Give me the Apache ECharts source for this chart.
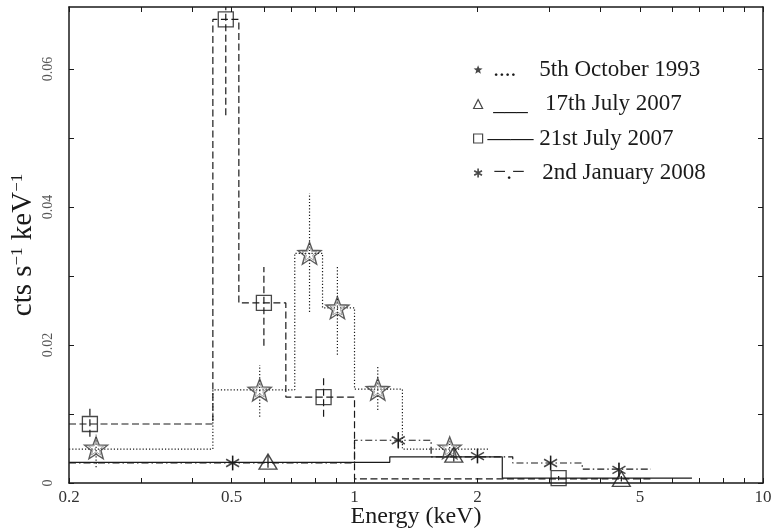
<!DOCTYPE html>
<html>
<head>
<meta charset="utf-8">
<script src="https://cdn.jsdelivr.net/npm/echarts@6/dist/echarts.min.js"></script>
<style>
  html, body { margin: 0; padding: 0; background: #fff; }
  #chart { width: 774px; height: 529px; }
</style>
</head>
<body>
<div id="chart"></div>
<script>
// axis ticks (energy in keV, rate in cts/s/keV)
const xLabels = [0.2, 0.5, 1, 2, 5, 10]
const xTicks = [0.2, 0.3, 0.4, 0.5, 0.6, 0.7, 0.8, 0.9, 1, 2, 3, 4, 5, 6, 7, 8, 9, 10]
const yLabels = [0, 0.02, 0.04, 0.06]
const yTicks = [0, 0.01, 0.02, 0.03, 0.04, 0.05, 0.06]

const names = ['5th October 1993', '17th July 2007', '21st July 2007', '2nd January 2008']
const legendMarks = [' ....    ', ' ___   ', '—— ', ' −.−   ']

// histogram bins: edges and rate in each bin
const edges1993 = [0.2, 0.45, 0.714, 0.835, 1.0, 1.31, 2.14]
const rates1993 = [0.0049, 0.0135, 0.0333, 0.0254, 0.0136, 0.0049]
const edgesJul17 = [0.2, 1.22, 2.3, 6.7]
const ratesJul17 = [0.0030, 0.0038, 0.0007]
const edgesJul21 = [0.2, 0.45, 0.521, 0.679, 1.0, 5.3]
const ratesJul21 = [0.00855, 0.0672, 0.0261, 0.01246, 0.0006]
const edgesJan08 = [0.2, 1.0, 1.54, 2.44, 3.61, 5.32]
const ratesJan08 = [0.0029, 0.0062, 0.0038, 0.0029, 0.0020]

// data points: [energy, rate, low, high]
const pts1993 = [
  [0.233, 0.0051, 0.0023, 0.0070],
  [0.586, 0.0135, 0.0096, 0.0171],
  [0.776, 0.0333, 0.0248, 0.0420],
  [0.908, 0.0254, 0.0186, 0.0316],
  [1.14, 0.0136, 0.0106, 0.0171],
  [1.71, 0.0051, 0.0041, 0.0061]
]
const ptsJul17 = [
  [0.614, 0.0031, 0.0022, 0.0040],
  [1.75, 0.0041, 0.0031, 0.0051],
  [4.5, 0.0006, 0.0002, 0.0010]
]
const ptsJul21 = [
  [0.225, 0.00855, 0.0067, 0.0109],
  [0.484, 0.0672, 0.0533, 0.0810],
  [0.60, 0.0261, 0.0199, 0.0313],
  [0.84, 0.01246, 0.0096, 0.0152],
  [3.16, 0.0007, 0.0004, 0.0010]
]
const ptsJan08 = [
  [0.503, 0.0029, 0.0019, 0.0039],
  [1.28, 0.0062, 0.0050, 0.0074],
  [2.0, 0.0039, 0.0029, 0.0049],
  [3.02, 0.0029, 0.0019, 0.0039],
  [4.44, 0.0019, 0.0009, 0.0029]
]

const yMax = 0.069
const lg = Math.log10
const font = 'Liberation Serif'
const ink = '#1a1a1a'

const starPath = 'path://M0,-1L0.247,-0.34L0.951,-0.309L0.399,0.13L0.588,0.809L0,0.42L-0.588,0.809L-0.399,0.13L-0.951,-0.309L-0.247,-0.34Z'
const asteriskPath = 'path://M0,-1L0,1M-0.866,-0.5L0.866,0.5M-0.866,0.5L0.866,-0.5'

const dotted = [1.2, 2]
const dashed = [7, 3.5]
const dashDot = [7, 3, 1.5, 3]

function stepSeries(edges, rates, dash, id) {
  return {
    name: id,
    type: 'line',
    step: 'end',
    showSymbol: false,
    silent: true,
    z: 2,
    lineStyle: { color: ink, width: 1.2, type: dash || 'solid' },
    data: edges.map((e, i) => [lg(e), rates[Math.min(i, rates.length - 1)]])
  }
}

function errSeries(pts, dash) {
  return {
    type: 'custom',
    silent: true,
    z: 3,
    data: pts.map(p => [lg(p[0]), p[2], p[3]]),
    renderItem: function (params, api) {
      const a = api.coord([api.value(0), api.value(1)])
      const b = api.coord([api.value(0), Math.min(api.value(2), yMax)])
      return {
        type: 'line',
        shape: { x1: a[0], y1: a[1], x2: b[0], y2: b[1] },
        style: { stroke: ink, lineWidth: 1.2, lineDash: dash }
      }
    }
  }
}

function markSeries(pts, name, symbol, size, style) {
  return {
    name: name,
    type: 'scatter',
    symbol: symbol,
    symbolSize: size,
    symbolKeepAspect: true,
    silent: true,
    z: 4,
    itemStyle: Object.assign({ color: 'rgba(0,0,0,0)', borderColor: ink, borderWidth: 1.3 }, style || {}),
    data: pts.map(p => [lg(p[0]), p[1]])
  }
}

function frameAxis(extra) {
  return Object.assign({
    type: 'value',
    splitLine: { show: false },
    axisLine: { show: true, onZero: false, lineStyle: { color: ink, width: 1.5 } },
    axisTick: { show: true, inside: true, length: 5, lineStyle: { color: ink } },
    axisLabel: { show: false }
  }, extra)
}

const chart = echarts.init(document.getElementById('chart'))

chart.setOption({
  animation: false,
  backgroundColor: '#fff',
  grid: { left: 69, right: 11, top: 7, bottom: 46, outerBoundsMode: 'none' },
  legend: {
    orient: 'vertical',
    left: 468,
    top: 53,
    itemWidth: 9,
    itemHeight: 9,
    itemGap: 11.5,
    selectedMode: false,
    textStyle: { fontFamily: font, fontSize: 23, color: ink },
    formatter: n => legendMarks[names.indexOf(n)] + n,
    data: [
      { name: names[0], icon: starPath, itemStyle: { color: ink, borderWidth: 0 } },
      { name: names[1], icon: 'triangle', itemStyle: { color: '#fff', borderColor: ink, borderWidth: 1.2 } },
      { name: names[2], icon: 'rect', itemStyle: { color: '#fff', borderColor: ink, borderWidth: 1.2 } },
      { name: names[3], icon: asteriskPath, itemStyle: { color: 'rgba(0,0,0,0)', borderColor: ink, borderWidth: 1.6 } }
    ]
  },
  xAxis: [
    frameAxis({
      min: lg(0.2),
      max: 1,
      position: 'bottom',
      axisTick: { show: true, inside: true, length: 5, customValues: xTicks.map(lg), lineStyle: { color: ink } },
      axisLabel: {
        customValues: xLabels.map(lg),
        formatter: v => String(+Math.pow(10, v).toPrecision(3)),
        fontFamily: font, fontSize: 17, color: '#333', margin: 6
      },
      name: 'Energy (keV)',
      nameLocation: 'middle',
      nameMoveOverlap: false,
      nameGap: 22,
      nameTextStyle: { fontFamily: font, fontSize: 24, color: ink }
    }),
    frameAxis({
      min: lg(0.2),
      max: 1,
      position: 'top',
      axisTick: { show: true, inside: true, length: 5, customValues: xTicks.map(lg), lineStyle: { color: ink } }
    })
  ],
  yAxis: [
    frameAxis({
      min: 0,
      max: yMax,
      position: 'left',
      axisTick: { show: true, inside: true, length: 5, customValues: yTicks, lineStyle: { color: ink } },
      axisLabel: {
        customValues: yLabels,
        rotate: 90,
        formatter: v => (v === 0 ? '0' : v.toFixed(2)),
        fontFamily: font, fontSize: 14, color: '#555', margin: 14
      },
      name: 'cts s{sup|−1} keV{sup|−1}',
      nameLocation: 'middle',
      nameRotate: 90,
      nameMoveOverlap: false,
      nameGap: 31,
      nameTextStyle: {
        fontFamily: font, fontSize: 29, color: ink,
        rich: { sup: { fontFamily: font, fontSize: 17, color: ink, verticalAlign: 'top', lineHeight: 29 } }
      }
    }),
    frameAxis({
      min: 0,
      max: yMax,
      position: 'right',
      axisTick: { show: true, inside: true, length: 5, customValues: yTicks, lineStyle: { color: ink } }
    })
  ],
  series: [
    stepSeries(edges1993, rates1993, dotted, 'step1993'),
    stepSeries(edgesJul17, ratesJul17, 'solid', 'stepJul17'),
    stepSeries(edgesJul21, ratesJul21, dashed, 'stepJul21'),
    stepSeries(edgesJan08, ratesJan08, dashDot, 'stepJan08'),
    errSeries(pts1993, dotted),
    errSeries(ptsJul17, null),
    errSeries(ptsJul21, dashed),
    errSeries(ptsJan08, null),
    markSeries(pts1993, names[0], starPath, 23, { borderColor: '#333', borderWidth: 1.4 }),
    markSeries(pts1993, 'star-inner', starPath, 15, { borderColor: '#888', borderWidth: 1 }),
    markSeries(ptsJul17, names[1], 'triangle', [18, 15]),
    markSeries(ptsJul21, names[2], 'rect', 15),
    markSeries(ptsJan08, names[3], asteriskPath, 15, { borderWidth: 1.5 })
  ]
})
</script>
</body>
</html>
